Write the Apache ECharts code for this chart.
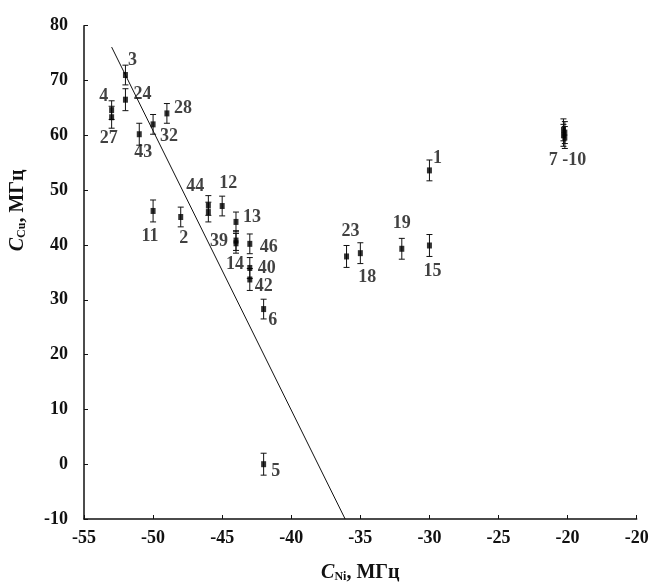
<!DOCTYPE html>
<html>
<head>
<meta charset="utf-8">
<script src="https://cdn.jsdelivr.net/npm/echarts@6/dist/echarts.min.js"></script>
<style>
html,body{margin:0;padding:0;background:#fff;}
#chart{width:652px;height:588px;}
</style>
</head>
<body>
<div id="chart"></div>
<script>
// ---- data ----
const pointLabels = ['1','2','3','4','5','6','7 -10','','','','11','12','13','14','15','18','19','23','24','27','28','32','39','40','42','43','44','','46'];
const cNi = [-30,-48,-52,-53,-42,-42,-20.3,-20.2,-20.3,-20.2,-50,-45,-44,-44,-30,-35,-32,-36,-52,-53,-49,-50,-44,-43,-43,-51,-46,-46,-43];
const cCu = [53.6,45.1,71.0,64.6,0.0,28.3,61.0,60.5,60.0,59.6,46.2,47.1,44.2,40.3,39.9,38.5,39.3,37.9,66.5,63.3,64.0,62.0,40.8,35.8,33.7,60.2,47.2,46.0,40.2];
const cCuErr = [1.9,1.8,1.8,1.7,2.0,1.8,2.0,2.0,2.0,2.0,2.0,1.8,1.8,1.8,2.0,1.9,1.9,2.0,2.0,2.0,1.8,1.8,1.8,1.9,2.0,2.0,1.8,1.8,1.8];
const fitLineX = [-53.0, -36.1];
const fitLineY = [76.1, -10];
const xTickLabels = ['-55','-50','-45','-40','-35','-30','-25','-20','-20'];
const yTickLabels = ['-10','0','10','20','30','40','50','60','70','80'];

// ---- label placement (style, px offsets from marker) ----
const labelOffsets = {
  '1':[8,-12],'2':[3,21],'3':[7,-15],'4':[-8,-14],'5':[12,7],'6':[9,11],'7 -10':[4,31],
  '11':[-3,25],'12':[6,-23],'13':[16,-5],'14':[-1,21],'15':[3,26],'18':[7,24],'19':[0,-25],
  '23':[4,-25],'24':[17,-5],'27':[-3,21],'28':[16,-5],'32':[16,12],'39':[-17,1],'40':[17,0],
  '42':[14,7],'43':[4,18],'44':[-13,-19],'46':[19,3]
};

const serif = '"Liberation Serif","Times New Roman",serif';
const chart = echarts.init(document.getElementById('chart'));

const scatterData = cNi.map((x,i)=>({
  name: pointLabels[i],
  value: [x, cCu[i]],
  label: { offset: labelOffsets[pointLabels[i]] || [0,0] }
}));
const errData = cNi.map((x,i)=>[x, cCu[i], cCuErr[i]]);

const nameRich = {
  c: {fontFamily: serif, fontStyle:'italic', fontWeight:'bold', fontSize:20, color:'#111', verticalAlign:'bottom'},
  s: {fontFamily: serif, fontWeight:'bold', fontSize:12, color:'#111', verticalAlign:'bottom'},
  t: {fontFamily: serif, fontWeight:'bold', fontSize:20, color:'#111', verticalAlign:'bottom'}
};

chart.setOption({
  animation:false,
  backgroundColor:'#fff',
  grid:{left:81.7, right:15.3, top:25.7, bottom:66.3, containLabel:false},
  xAxis:{
    type:'value', min:-55, max:-15, interval:5,
    name:'{c|C}{s|Ni}{t|, МГц}', nameLocation:'middle', nameGap:44,
    nameTextStyle:{rich:nameRich},
    axisLine:{show:true, onZero:false, lineStyle:{color:'#111', width:1.5}},
    axisTick:{show:true, inside:true, length:4, lineStyle:{color:'#111', width:1}},
    splitLine:{show:false},
    axisLabel:{margin:10, fontFamily:serif, fontWeight:'bold', fontSize:18, color:'#111',
      formatter:(v)=>{const i=Math.round((v+55)/5); return xTickLabels[i] ?? '';}}
  },
  yAxis:{
    type:'value', min:-10, max:80, interval:10,
    name:'{c|C}{s|Cu}{t|, МГц}', nameLocation:'middle', nameGap:56, nameRotate:90,
    nameTextStyle:{rich:nameRich, padding:[0,0,0,124]},
    axisLine:{show:true, onZero:false, lineStyle:{color:'#111', width:1.5}},
    axisTick:{show:true, inside:true, length:4, lineStyle:{color:'#111', width:1}},
    splitLine:{show:false},
    axisLabel:{margin:16, fontFamily:serif, fontWeight:'bold', fontSize:18, color:'#111',
      formatter:(v)=>{const i=Math.round((v+10)/10); return yTickLabels[i] ?? '';}}
  },
  series:[
    {
      type:'line', data: fitLineX.map((x,i)=>[x, fitLineY[i]]),
      symbol:'none', lineStyle:{color:'#111', width:1}, silent:true, z:1
    },
    {
      type:'custom', data: errData, z:2,
      renderItem:(params, api)=>{
        const x=api.value(0), y=api.value(1), e=api.value(2);
        const top=api.coord([x, y+e]), bot=api.coord([x, y-e]);
        const w=3;
        const st={stroke:'#111', lineWidth:1};
        return {type:'group', children:[
          {type:'line', shape:{x1:top[0], y1:top[1], x2:bot[0], y2:bot[1]}, style:st},
          {type:'line', shape:{x1:top[0]-w, y1:top[1], x2:top[0]+w, y2:top[1]}, style:st},
          {type:'line', shape:{x1:bot[0]-w, y1:bot[1], x2:bot[0]+w, y2:bot[1]}, style:st}
        ]};
      }
    },
    {
      type:'scatter', data: scatterData, symbol:'rect', symbolSize:[5,6], z:3,
      itemStyle:{color:'#000'},
      label:{show:true, position:'inside', formatter:(p)=>p.name,
        fontFamily:serif, fontWeight:'bold', fontSize:18, color:'#111'}
    }
  ]
});
</script>
</body>
</html>
